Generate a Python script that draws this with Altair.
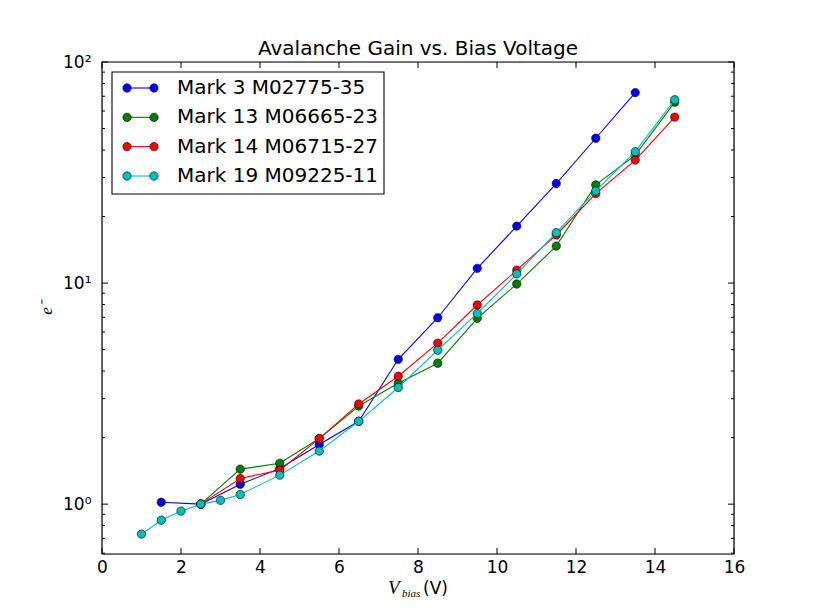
import altair as alt
import pandas as pd

# ---- data ----
title_text = "Avalanche Gain vs. Bias Voltage"
names = ["Mark 3 M02775-35", "Mark 13 M06665-23", "Mark 14 M06715-27", "Mark 19 M09225-11"]
colors = ["#0000ff", "#008000", "#ff0000", "#00bfbf"]

x_m3 = [1.5, 2.5, 3.5, 4.5, 5.5, 6.5, 7.5, 8.5, 9.5, 10.5, 11.5, 12.5, 13.5]
y_m3 = [1.02, 1.0, 1.23, 1.45, 1.86, 2.37, 4.52, 6.97, 11.66, 18.1, 28.2, 45.2, 72.7]

x_m13 = [2.5, 3.5, 4.5, 5.5, 6.5, 7.5, 8.5, 9.5, 10.5, 11.5, 12.5, 13.5, 14.5]
y_m13 = [1.0, 1.44, 1.53, 1.98, 2.78, 3.52, 4.34, 6.93, 9.9, 14.7, 27.8, 37.9, 65.8]

x_m14 = [2.5, 3.5, 4.5, 5.5, 6.5, 7.5, 8.5, 9.5, 10.5, 11.5, 12.5, 13.5, 14.5]
y_m14 = [1.0, 1.307, 1.425, 1.98, 2.84, 3.79, 5.35, 7.96, 11.44, 16.5, 25.4, 36.0, 56.3]

x_m19 = [1.0, 1.5, 2.0, 2.5, 3.0, 3.5, 4.5, 5.5, 6.5, 7.5, 8.5, 9.5, 10.5, 11.5, 12.5, 13.5, 14.5]
y_m19 = [0.732, 0.846, 0.93, 1.0, 1.04, 1.106, 1.353, 1.738, 2.37, 3.37, 4.97, 7.29, 11.0, 16.9, 26.1, 39.3, 67.5]

x_ticks = [0, 2, 4, 6, 8, 10, 12, 14, 16]
y_ticks = [1, 10, 100]
y_minor = [0.6, 0.7, 0.8, 0.9, 2, 3, 4, 5, 6, 7, 8, 9, 20, 30, 40, 50, 60, 70, 80, 90]

series = [(x_m3, y_m3), (x_m13, y_m13), (x_m14, y_m14), (x_m19, y_m19)]

W, H = 632, 492
xscale = alt.Scale(domain=[0, 16], nice=False, zero=False)
yscale = alt.Scale(type="log", domain=[0.595, 100], nice=False)

FONT = "DejaVu Sans"

xaxis = alt.Axis(values=x_ticks, format="d", tickSize=0, domain=False, grid=False, labelFlush=False,
                 labelFontSize=17, labelFont=FONT, labelColor="black", labelPadding=5, title=None)
ylabel_expr = "datum.value == 1 ? '10⁰' : datum.value == 10 ? '10¹' : '10²'"
yaxis = alt.Axis(values=y_ticks, labelExpr=ylabel_expr, tickSize=0, domain=False, grid=False, labelFlush=False,
                 labelFontSize=17, labelFont=FONT, labelColor="black", labelPadding=11, title=None)


def X(field):
    return alt.X(field, scale=xscale, axis=xaxis)


def Y(field):
    return alt.Y(field, scale=yscale, axis=yaxis)


layers = []
for i, ((xs, ys), col) in enumerate(zip(series, colors)):
    df = pd.DataFrame({"x": xs, "y": ys, "name": names[i]})
    base = alt.Chart(df)
    layers.append(base.mark_line(color=col, strokeWidth=1.1).encode(x=X("x:Q"), y=Y("y:Q")))
    layers.append(base.mark_point(filled=True, fill=col, stroke="black", strokeWidth=0.6,
                                  size=70, opacity=1).encode(x=X("x:Q"), y=Y("y:Q")))

one = pd.DataFrame({"a": [0]})

# frame
frame = alt.Chart(one).mark_rect(fill=None, stroke="black", strokeWidth=1.2).encode(
    x=alt.value(0), x2=alt.value(W), y=alt.value(0), y2=alt.value(H))

# inward ticks
xt = alt.Chart(pd.DataFrame({"t": x_ticks}))
yt = alt.Chart(pd.DataFrame({"t": y_ticks}))
ym = alt.Chart(pd.DataFrame({"t": y_minor}))
tick_layers = [
    xt.mark_rule(color="black", strokeWidth=1).encode(x=X("t:Q"), y=alt.value(H), y2=alt.value(H - 6)),
    xt.mark_rule(color="black", strokeWidth=1).encode(x=X("t:Q"), y=alt.value(0), y2=alt.value(6)),
    yt.mark_rule(color="black", strokeWidth=1).encode(y=Y("t:Q"), x=alt.value(0), x2=alt.value(6)),
    yt.mark_rule(color="black", strokeWidth=1).encode(y=Y("t:Q"), x=alt.value(W), x2=alt.value(W - 6)),
    ym.mark_rule(color="black", strokeWidth=1).encode(y=Y("t:Q"), x=alt.value(0), x2=alt.value(3)),
    ym.mark_rule(color="black", strokeWidth=1).encode(y=Y("t:Q"), x=alt.value(W), x2=alt.value(W - 3)),
]

# titles as text
title = alt.Chart(one).mark_text(text=title_text, font=FONT, fontSize=20, align="center",
                                 baseline="alphabetic", color="black").encode(x=alt.value(W / 2), y=alt.value(-7))
xtitle = [
    alt.Chart(one).mark_text(text="V", font="Liberation Serif", fontStyle="italic", fontSize=19,
                             align="left", baseline="alphabetic").encode(x=alt.value(286), y=alt.value(532)),
    alt.Chart(one).mark_text(text="bias", font="Liberation Serif", fontStyle="italic", fontSize=11,
                             align="left", baseline="alphabetic").encode(x=alt.value(300), y=alt.value(535)),
    alt.Chart(one).mark_text(text="(V)", font=FONT, fontSize=17,
                             align="left", baseline="alphabetic").encode(x=alt.value(321), y=alt.value(532)),
]
ytitle = alt.Chart(one).mark_text(text="e⁻", font="Liberation Serif", fontStyle="italic", fontSize=17,
                                  angle=270, align="center", baseline="middle").encode(x=alt.value(-55), y=alt.value(246))

main = alt.layer(*layers, *tick_layers, frame, title, *xtitle, ytitle)

# legend
leg_df = pd.DataFrame({"row": [0, 1, 2, 3], "name": names, "color": colors})
lscale = alt.Scale(domain=[0, 3], range=[26, 114], nice=False, zero=False)
LY = alt.Y("row:Q", scale=lscale, axis=None)
leg = alt.Chart(leg_df)
legend = alt.layer(
    alt.Chart(one).mark_rect(fill="white", stroke="black", strokeWidth=1.1).encode(
        x=alt.value(10), x2=alt.value(282), y=alt.value(10), y2=alt.value(132)),
    leg.mark_rule(strokeWidth=1.1).encode(
        y=LY, x=alt.value(25), x2=alt.value(52), color=alt.Color("color:N", scale=None)),
    leg.mark_point(filled=True, stroke="black", strokeWidth=0.6, size=70, opacity=1).encode(
        y=LY, x=alt.value(25), fill=alt.Fill("color:N", scale=None)),
    leg.mark_point(filled=True, stroke="black", strokeWidth=0.6, size=70, opacity=1).encode(
        y=LY, x=alt.value(52), fill=alt.Fill("color:N", scale=None)),
    leg.mark_text(font=FONT, fontSize=20, align="left", baseline="middle", color="black").encode(
        y=LY, x=alt.value(75), text="name:N"),
)

chart = alt.layer(main, legend).resolve_scale(y="independent").properties(
    width=W, height=H,
    autosize=alt.AutoSizeParams(type="none"),
    padding={"left": 94, "top": 54, "right": 60, "bottom": 50},
).configure_view(stroke=None).configure(background="white")

chart.save("out.html", embed_options={"renderer": "svg", "actions": False})
